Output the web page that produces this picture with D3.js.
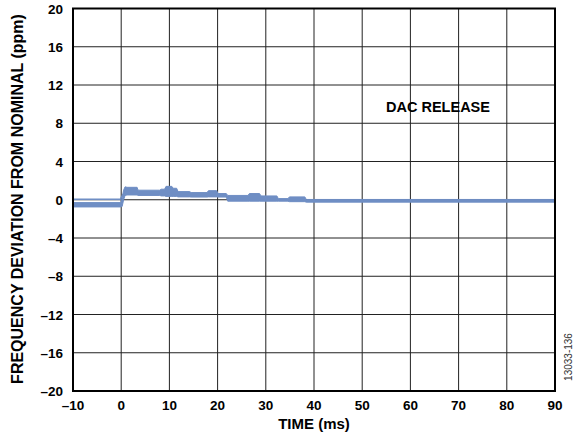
<!DOCTYPE html>
<html><head><meta charset="utf-8">
<script src="https://cdn.jsdelivr.net/npm/d3@7"></script>
<style>body{margin:0;background:#fff}svg{display:block}text{font-family:"Liberation Sans",Arial,sans-serif}</style>
</head><body><svg id="c" width="579" height="441"></svg>
<script>
// Data
const xTicks = [-10, 0, 10, 20, 30, 40, 50, 60, 70, 80, 90];
const yTicks = [-20, -16, -12, -8, -4, 0, 4, 8, 12, 16, 20];
// trace envelope: time (ms), upper (ppm), lower (ppm)
const traceT  = [-10, -0.1, 0.2, 0.5, 0.8, 1.2, 3.3, 3.5, 8.0, 8.3, 9.0, 9.3, 10.5, 10.8, 11.5, 11.8, 14.2, 14.5, 17.8, 18.1, 19.8, 20.1, 21.8, 22.1, 26.3, 26.6, 28.7, 29.0, 32.3, 32.6, 34.6, 34.9, 38.1, 38.4, 90];
const traceHi = [-0.3, -0.3, 0.2, 1.0, 1.35, 1.3, 1.3, 1.0, 1.0, 1.1, 1.1, 1.4, 1.4, 1.2, 1.2, 0.85, 0.85, 0.75, 0.75, 0.95, 0.95, 0.65, 0.65, 0.45, 0.45, 0.65, 0.65, 0.4, 0.4, 0.12, 0.12, 0.3, 0.3, 0.03, 0.03];
const traceLo = [-0.75, -0.75, -0.7, 0.0, 0.45, 0.5, 0.5, 0.45, 0.45, 0.4, 0.4, 0.35, 0.35, 0.35, 0.35, 0.3, 0.3, 0.28, 0.28, 0.3, 0.3, 0.28, 0.28, -0.15, -0.15, -0.15, -0.15, -0.15, -0.15, -0.15, -0.15, -0.2, -0.2, -0.25, -0.25];
// thin upper line before release
const preT = [-10, -0.2, 0.4];
const preV = [0.05, 0.05, 0.6];

const fmt = v => v < 0 ? "\u2013" + Math.abs(v) : String(v);

const svg = d3.select("#c");
const L = 73, R = 555, T = 8.5, B = 391;
const x = d3.scaleLinear().domain([-10, 90]).range([L, R]);
const y = d3.scaleLinear().domain([-20, 20]).range([B, T]);

// grid
const g = svg.append("g");
g.selectAll(".vx").data(xTicks).join("line")
  .attr("x1", d => x(d)).attr("x2", d => x(d)).attr("y1", T).attr("y2", B)
  .attr("stroke", "#222").attr("stroke-width", 1);
g.selectAll(".hy").data(yTicks).join("line")
  .attr("y1", d => y(d)).attr("y2", d => y(d)).attr("x1", L).attr("x2", R)
  .attr("stroke", "#222").attr("stroke-width", 1);

// trace
const color = "#6f8ec4";
const pts = traceT.map((t, i) => ({t, hi: traceHi[i], lo: traceLo[i]}));
svg.append("path").datum(pts)
  .attr("d", d3.area().x(d => x(d.t)).y0(d => y(d.lo)).y1(d => y(d.hi)))
  .attr("fill", color).attr("stroke", color).attr("stroke-width", 1);
svg.append("path").datum(preT.map((t, i) => ({t, v: preV[i]})))
  .attr("d", d3.line().x(d => x(d.t)).y(d => y(d.v)))
  .attr("fill", "none").attr("stroke", color).attr("stroke-width", 1.5);

// frame
svg.append("rect").attr("x", L).attr("y", T).attr("width", R - L).attr("height", B - T)
  .attr("fill", "none").attr("stroke", "#000").attr("stroke-width", 2);

// tick labels
svg.selectAll(".xl").data(xTicks).join("text")
  .attr("x", d => x(d)).attr("y", 409.5).attr("text-anchor", "middle")
  .attr("font-size", 13.5).attr("font-weight", "bold").text(fmt);
svg.selectAll(".yl").data(yTicks).join("text")
  .attr("x", 63).attr("y", d => y(d) + 5).attr("text-anchor", "end")
  .attr("font-size", 13.5).attr("font-weight", "bold").text(fmt);

// titles
svg.append("text").attr("x", 314).attr("y", 428.5).attr("text-anchor", "middle")
  .attr("font-size", 15).attr("font-weight", "bold").text("TIME (ms)");
svg.append("text").attr("transform", "translate(23,199) rotate(-90)").attr("text-anchor", "middle")
  .attr("font-size", 16).attr("font-weight", "bold").text("FREQUENCY DEVIATION FROM NOMINAL (ppm)");
svg.append("text").attr("x", 438).attr("y", 112).attr("text-anchor", "middle")
  .attr("font-size", 14.5).attr("font-weight", "bold").text("DAC RELEASE");
svg.append("text").attr("transform", "translate(572,357) rotate(-90)").attr("text-anchor", "middle")
  .attr("font-size", 10).attr("fill", "#333").text("13033-136");
</script></body></html>
